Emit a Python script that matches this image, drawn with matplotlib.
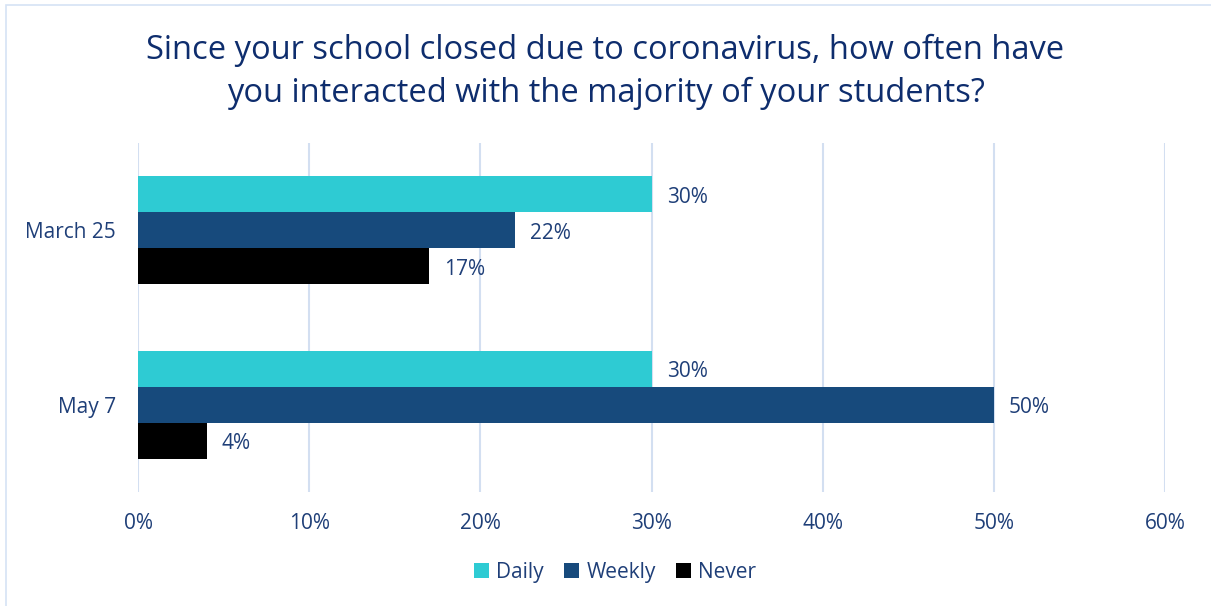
import matplotlib.pyplot as plt
from matplotlib.patches import Rectangle
import numpy as np

plt.rcParams['font.family'] = ['Open Sans', 'DejaVu Sans']

categories = ['March 25', 'May 7']
series = ['Daily', 'Weekly', 'Never']
daily = [30, 30]
weekly = [22, 50]
never = [17, 4]
colors = ['#2ecbd3', '#174a7c', '#000000']
text_col = '#1f3f78'
title_col = '#0e2d6d'

fig = plt.figure(figsize=(12.11, 6.06), dpi=100)
ax = fig.add_axes([0.114, 0.188, 0.848, 0.576])

# category positions: top one first
ypos = np.array([1, 0])
h = 0.206
values = [daily, weekly, never]
for i, (name, vals) in enumerate(zip(series, values)):
    y = ypos + (1 - i) * h
    bars = ax.barh(y, vals, height=h, color=colors[i], label=name, zorder=3)
    for b, v in zip(bars, vals):
        ax.annotate(f'{v}%', (v, b.get_y() + h / 2), xytext=(11, -2),
                    textcoords='offset points', va='center', ha='left',
                    fontsize=15, color=text_col)

ax.set_xlim(0, 60)
ax.set_ylim(-0.5, 1.5)
ax.set_xticks(range(0, 61, 10))
ax.set_xticklabels([f'{t}%' for t in range(0, 61, 10)], fontsize=15, color=text_col)
ax.set_yticks(ypos)
ax.set_yticklabels(categories, fontsize=15, color=text_col)
ax.tick_params(axis='both', length=0)
ax.tick_params(axis='x', pad=15)
ax.tick_params(axis='y', pad=16)
ax.grid(axis='x', color='#d3dff1', linewidth=1.5, zorder=0)
for s in ax.spines.values():
    s.set_visible(False)

fig.suptitle('Since your school closed due to coronavirus, how often have\nyou interacted with the majority of your students?',
             y=0.944, fontsize=23.5, color=title_col, linespacing=1.38)

leg = fig.legend(loc='center', bbox_to_anchor=(0.508, 0.056), ncol=3, frameon=False,
                 fontsize=15, handlelength=0.7, handleheight=0.7, handletextpad=0.35,
                 columnspacing=1.0)
for t in leg.get_texts():
    t.set_color(text_col)

fig.patches.append(Rectangle((0.005, -0.01), 1.0, 1.002, transform=fig.transFigure,
                             fill=False, edgecolor='#d6e3f5', linewidth=1.2))

fig.savefig('out.png', dpi=100)
